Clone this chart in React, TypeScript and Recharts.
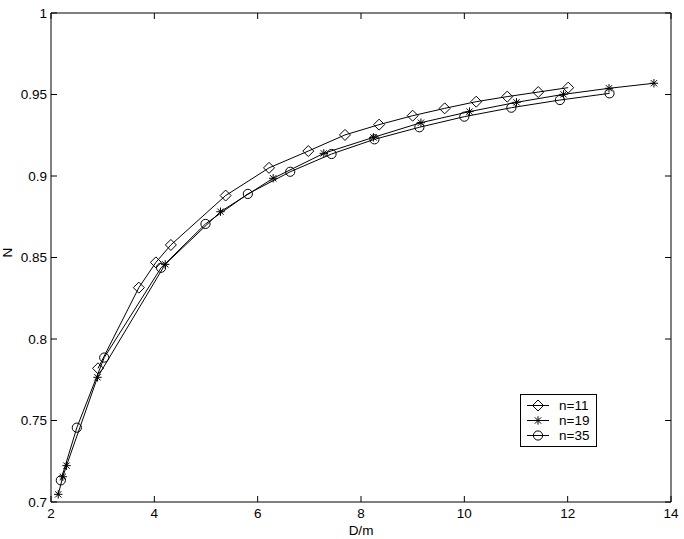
import React from "react";
import { Label, Line, LineChart, XAxis, YAxis } from "recharts";

// D/m values and N values, one pair of arrays per series
const x11 = [2.91, 3.7, 4.03, 4.32, 5.38, 6.22, 6.98, 7.69, 8.35, 9.0, 9.62, 10.23, 10.83, 11.43, 12.01];
const y11 = [0.782, 0.8315, 0.847, 0.8577, 0.888, 0.905, 0.9153, 0.9252, 0.9315, 0.937, 0.9415, 0.9456, 0.9487, 0.9515, 0.9542];

const x19 = [2.14, 2.23, 2.3, 2.9, 4.21, 5.28, 6.3, 7.28, 8.24, 9.16, 10.1, 11.01, 11.92, 12.8, 13.67];
const y19 = [0.7047, 0.7155, 0.7223, 0.7765, 0.8458, 0.8781, 0.8986, 0.9139, 0.9237, 0.9327, 0.9395, 0.9452, 0.9501, 0.9538, 0.9569];

const x35 = [2.19, 2.5, 3.03, 4.13, 4.99, 5.81, 6.63, 7.43, 8.26, 9.13, 10.0, 10.91, 11.85, 12.81];
const y35 = [0.7133, 0.7456, 0.7886, 0.8437, 0.8706, 0.889, 0.9026, 0.9135, 0.9225, 0.9299, 0.9364, 0.9419, 0.9466, 0.9507];

const xTicks = [2, 4, 6, 8, 10, 12, 14];
const yTicks = [0.7, 0.75, 0.8, 0.85, 0.9, 0.95, 1];

const seriesNames = ["n=11", "n=19", "n=35"];

const FONT = "'Liberation Sans', Arial, Helvetica, sans-serif";

const zip = (xs: number[], ys: number[]) => xs.map((x, i) => ({ x, y: ys[i] }));

function Diamond({ cx, cy }: { cx: number; cy: number }) {
  const s = 5.5;
  return (
    <path
      d={`M${cx},${cy - s}L${cx + s},${cy}L${cx},${cy + s}L${cx - s},${cy}Z`}
      fill="none"
      stroke="#000"
      strokeWidth={1}
    />
  );
}

function Star({ cx, cy }: { cx: number; cy: number }) {
  const s = 4.2;
  const d = s * 0.75;
  return (
    <path
      d={`M${cx - s},${cy}L${cx + s},${cy}M${cx},${cy - s}L${cx},${cy + s}M${cx - d},${cy - d}L${cx + d},${cy + d}M${cx - d},${cy + d}L${cx + d},${cy - d}`}
      fill="none"
      stroke="#000"
      strokeWidth={1}
    />
  );
}

function Circle({ cx, cy }: { cx: number; cy: number }) {
  return <circle cx={cx} cy={cy} r={4.6} fill="none" stroke="#000" strokeWidth={1} />;
}

const markers = [Diamond, Star, Circle];

function makeDot(Shape: typeof Diamond) {
  return (p: any) => {
    if (p.cx == null || p.cy == null) return <g key={p.key} />;
    return (
      <g key={p.key}>
        <Shape cx={p.cx} cy={p.cy} />
      </g>
    );
  };
}

function LegendBox() {
  return (
    <div
      style={{
        position: "absolute",
        left: 520,
        top: 394,
        border: "1px solid #000",
        background: "#fff",
        width: 75,
        padding: "3px 0 3px 0",
        fontFamily: FONT,
        fontSize: 13.5,
        color: "#000",
        lineHeight: "15px",
      }}
    >
      {seriesNames.map((name, i) => {
        const Shape = markers[i];
        return (
          <div key={name} style={{ display: "flex", alignItems: "center", height: 15 }}>
            <svg width={36} height={15} style={{ display: "block" }}>
              <line x1={6} y1={7.5} x2={28} y2={7.5} stroke="#000" strokeWidth={1} />
              <Shape cx={17} cy={7.5} />
            </svg>
            <span style={{ marginLeft: 2 }}>{name}</span>
          </div>
        );
      })}
    </div>
  );
}

const tickStyle = { fontSize: 13.5, fill: "#000", fontFamily: FONT };
const axisLine = { stroke: "#000", strokeWidth: 1 };

export default function App() {
  const all = [zip(x11, y11), zip(x19, y19), zip(x35, y35)];
  return (
    <div style={{ position: "absolute", left: 0, top: 0, width: 684, height: 539, background: "#fff" }}>
      <LineChart width={684} height={539} margin={{ top: 12, right: 12, left: 0, bottom: 0 }}>
        <XAxis
          xAxisId="b"
          type="number"
          dataKey="x"
          domain={[2, 14]}
          ticks={xTicks}
          height={37}
          tick={tickStyle}
          tickSize={-6}
          tickMargin={12}
          axisLine={axisLine}
          tickLine={axisLine}
          allowDataOverflow
        >
          <Label
            value="D/m"
            position="insideBottom"
            offset={4}
            style={{ fontSize: 13.5, fill: "#000", fontFamily: FONT }}
          />
        </XAxis>
        <XAxis
          xAxisId="t"
          orientation="top"
          type="number"
          dataKey="x"
          domain={[2, 14]}
          ticks={xTicks}
          height={1}
          tickFormatter={() => ""}
          tickSize={-6}
          axisLine={axisLine}
          tickLine={axisLine}
          allowDataOverflow
        />
        <YAxis
          yAxisId="l"
          type="number"
          domain={[0.7, 1]}
          ticks={yTicks}
          width={51}
          tick={tickStyle}
          tickSize={-6}
          tickMargin={10}
          axisLine={axisLine}
          tickLine={axisLine}
          allowDataOverflow
        >
          <Label
            value="N"
            angle={-90}
            position="insideLeft"
            offset={7}
            style={{ fontSize: 13.5, fill: "#000", fontFamily: FONT }}
          />
        </YAxis>
        <YAxis
          yAxisId="r"
          orientation="right"
          type="number"
          domain={[0.7, 1]}
          ticks={yTicks}
          width={1}
          tickFormatter={() => ""}
          tickSize={-6}
          axisLine={axisLine}
          tickLine={axisLine}
          allowDataOverflow
        />
        {all.map((data, i) => (
          <Line
            key={seriesNames[i]}
            name={seriesNames[i]}
            data={data}
            dataKey="y"
            xAxisId="b"
            yAxisId="l"
            type="linear"
            stroke="#000"
            strokeWidth={1}
            dot={makeDot(markers[i])}
            activeDot={false}
            isAnimationActive={false}
          />
        ))}
      </LineChart>
      <LegendBox />
    </div>
  );
}
